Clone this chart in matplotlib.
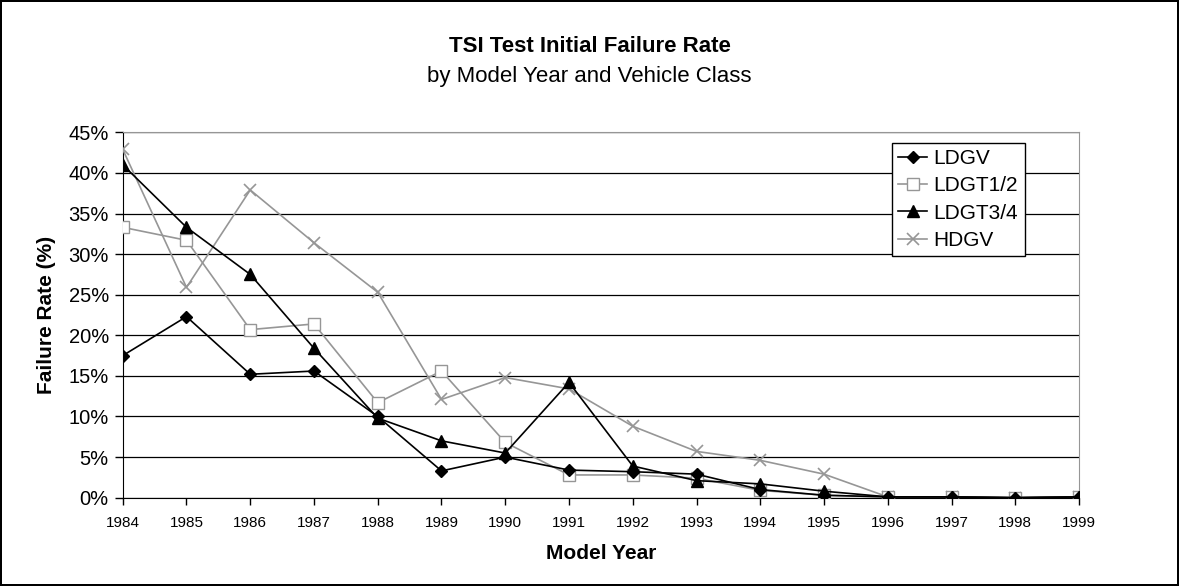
import matplotlib.pyplot as plt
from matplotlib.ticker import FixedLocator

plt.rcParams['font.family'] = ['Liberation Sans', 'DejaVu Sans']

# model years and failure rates (%) per vehicle class
years = [1984, 1985, 1986, 1987, 1988, 1989, 1990, 1991,
         1992, 1993, 1994, 1995, 1996, 1997, 1998, 1999]
ldgv = [17.5, 22.3, 15.2, 15.6, 10.0, 3.3, 5.0, 3.4,
        3.2, 2.9, 1.0, 0.3, 0.1, 0.1, 0.0, 0.1]
ldgt12 = [33.3, 31.7, 20.7, 21.4, 11.7, 15.6, 6.8, 2.8,
          2.8, 2.4, 0.9, 0.3, 0.1, 0.1, 0.0, 0.1]
ldgt34 = [41.0, 33.3, 27.5, 18.4, 9.8, 7.0, 5.5, 14.2,
          3.9, 2.1, 1.7, 0.8, 0.1, 0.1, 0.0, 0.1]
hdgv = [42.9, 25.9, 37.9, 31.4, 25.3, 12.1, 14.8, 13.4,
        8.8, 5.7, 4.6, 2.9, 0.1, 0.1, 0.0, 0.1]

yticks = [0, 5, 10, 15, 20, 25, 30, 35, 40, 45]
ytick_labels = ['0%', '5%', '10%', '15%', '20%', '25%', '30%', '35%', '40%', '45%']

grey = '#969696'

fig = plt.figure(figsize=(11.79, 5.86), dpi=100)
fig.patch.set_edgecolor('black')
fig.patch.set_linewidth(1.5)
ax = fig.add_axes([0.1041, 0.1507, 0.8111, 0.6235])

ax.plot(years, ldgv, color='black', lw=1.2, marker='D', ms=6.5, label='LDGV', zorder=5)
ax.plot(years, ldgt12, color=grey, lw=1.2, marker='s', ms=8, mfc='white', mec=grey,
        label='LDGT1/2', zorder=4)
ax.plot(years, ldgt34, color='black', lw=1.2, marker='^', ms=9, label='LDGT3/4', zorder=6)
ax.plot(years, hdgv, color=grey, lw=1.2, marker='x', ms=9, mew=1.2, label='HDGV', zorder=3)

ax.set_xlim(years[0], years[-1])
ax.set_ylim(0, 45)
ax.set_xticks(years)
ax.set_xticklabels([str(y) for y in years], fontsize=11)
ax.yaxis.set_major_locator(FixedLocator(yticks))
ax.set_yticklabels(ytick_labels, fontsize=14.5)
ax.grid(axis='y', color='black', lw=0.9)
ax.set_axisbelow(True)

for s in ['right', 'top']:
    ax.spines[s].set_color(grey)
ax.spines['left'].set_color('black')
ax.spines['bottom'].set_color('black')
ax.tick_params(axis='y', direction='out', length=6, width=1, pad=4)
ax.tick_params(axis='x', direction='out', length=5, width=1, pad=8)

ax.set_xlabel('Model Year', fontsize=15, fontweight='bold', labelpad=10)
ax.set_ylabel('Failure Rate (%)', fontsize=15, fontweight='bold', labelpad=9)

fig.text(0.5, 0.92, 'TSI Test Initial Failure Rate', ha='center', va='center',
         fontsize=16, fontweight='bold')
fig.text(0.5, 0.87, 'by Model Year and Vehicle Class', ha='center', va='center',
         fontsize=16)

leg = ax.legend(loc='upper left', bbox_to_anchor=(0.8045, 0.9716), fontsize=15,
                frameon=True, fancybox=False, edgecolor='black', framealpha=1,
                handlelength=1.4, borderpad=0.3, labelspacing=0.4,
                handletextpad=0.3, borderaxespad=0)
leg.get_frame().set_linewidth(1)

fig.savefig('out.png', dpi=100)
